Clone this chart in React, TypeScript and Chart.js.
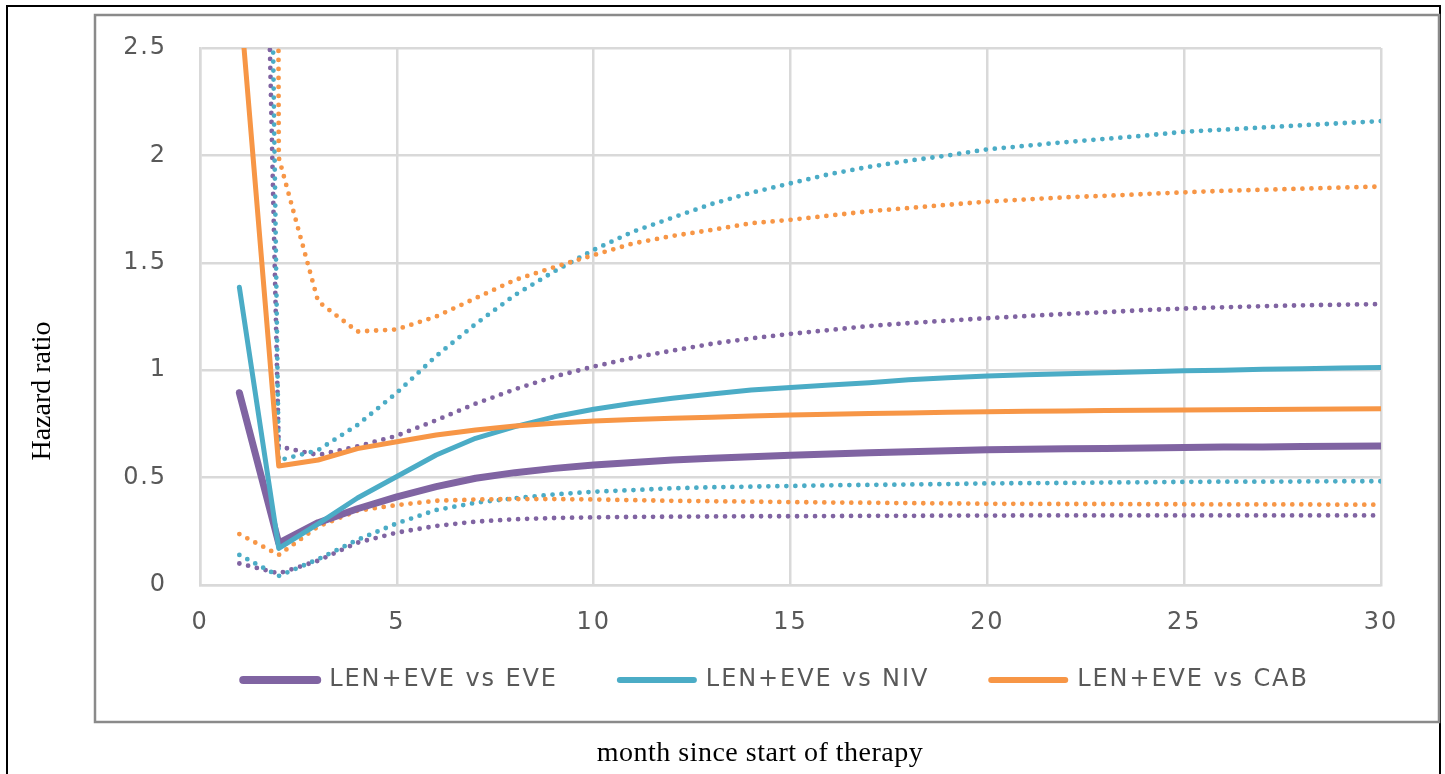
import React, { useEffect, useRef } from 'react';
import { Chart, registerables } from 'chart.js';

Chart.register(...registerables);

// ---- data ----
const months = [1, 2, 3, 4, 5, 6, 7, 8, 9, 10, 11, 12, 13, 14, 15, 16, 17, 18, 19, 20, 21, 22, 23, 24, 25, 26, 27, 28, 29, 30];

const eveHR = [0.895, 0.195, 0.29, 0.355, 0.41, 0.458, 0.497, 0.523, 0.543, 0.559, 0.57, 0.582, 0.59, 0.597, 0.604, 0.61, 0.616, 0.62, 0.625, 0.63, 0.632, 0.634, 0.636, 0.638, 0.64, 0.642, 0.643, 0.645, 0.646, 0.647];
const eveLo = [0.1, 0.054, 0.113, 0.197, 0.244, 0.275, 0.295, 0.306, 0.312, 0.315, 0.317, 0.318, 0.319, 0.32, 0.32, 0.321, 0.322, 0.322, 0.323, 0.323, 0.324, 0.324, 0.324, 0.324, 0.324, 0.324, 0.324, 0.324, 0.324, 0.324];
const eveHi = [8.9, 0.645, 0.605, 0.645, 0.695, 0.767, 0.844, 0.911, 0.97, 1.017, 1.058, 1.091, 1.123, 1.148, 1.169, 1.187, 1.206, 1.219, 1.231, 1.242, 1.252, 1.262, 1.27, 1.28, 1.287, 1.293, 1.298, 1.302, 1.305, 1.308];

const nivHR = [1.386, 0.17, 0.285, 0.405, 0.505, 0.605, 0.683, 0.737, 0.783, 0.818, 0.846, 0.869, 0.889, 0.908, 0.92, 0.931, 0.942, 0.955, 0.965, 0.973, 0.979, 0.984, 0.988, 0.993, 0.997, 1.0, 1.004, 1.007, 1.01, 1.012];
const nivLo = [0.14, 0.042, 0.12, 0.21, 0.287, 0.349, 0.383, 0.404, 0.422, 0.434, 0.442, 0.45, 0.455, 0.458, 0.461, 0.464, 0.466, 0.468, 0.47, 0.473, 0.474, 0.475, 0.477, 0.478, 0.48, 0.481, 0.481, 0.482, 0.483, 0.483];
const nivHi = [14, 0.58, 0.628, 0.745, 0.895, 1.066, 1.215, 1.35, 1.46, 1.56, 1.645, 1.71, 1.774, 1.826, 1.87, 1.913, 1.947, 1.975, 2.0, 2.028, 2.045, 2.062, 2.077, 2.092, 2.11, 2.12, 2.13, 2.14, 2.15, 2.16];

const cabHR = [2.76, 0.554, 0.582, 0.635, 0.667, 0.698, 0.722, 0.74, 0.753, 0.764, 0.771, 0.776, 0.781, 0.787, 0.791, 0.795, 0.798, 0.801, 0.804, 0.807, 0.809, 0.81, 0.812, 0.813, 0.815, 0.816, 0.817, 0.818, 0.819, 0.82];
const cabLo = [0.237, 0.14, 0.272, 0.346, 0.372, 0.392, 0.398, 0.4, 0.4, 0.398, 0.395, 0.392, 0.39, 0.388, 0.386, 0.384, 0.383, 0.381, 0.38, 0.378, 0.378, 0.377, 0.377, 0.376, 0.376, 0.375, 0.375, 0.375, 0.374, 0.374];
const cabHi = [80, 1.99, 1.32, 1.18, 1.19, 1.25, 1.335, 1.42, 1.48, 1.536, 1.59, 1.625, 1.653, 1.684, 1.7, 1.72, 1.74, 1.755, 1.77, 1.785, 1.795, 1.805, 1.812, 1.82, 1.828, 1.835, 1.84, 1.845, 1.85, 1.855];

const seriesNames = ['LEN+EVE vs EVE', 'LEN+EVE vs NIV', 'LEN+EVE vs CAB'];
const yTickLabels = ['0', '0.5', '1', '1.5', '2', '2.5'];
const xTickLabels = ['0', '5', '10', '15', '20', '25', '30'];
const yTitle = 'Hazard ratio';
const xTitle = 'month since start of therapy';

// ---- styles ----
const PURPLE = '#8064A2';
const CYAN = '#4BACC6';
const ORANGE = '#F79646';
const TICK_COLOR = '#595959';
const GRID_COLOR = '#D9D9D9';
const seriesColors = [PURPLE, CYAN, ORANGE];
const solidWidths = [7, 5, 5];

const W = 1445;
const H = 774;
const LEGEND_LEFT = 171;
const LEGEND_SHIFT_Y = -34;

const toPts = (vals: number[]) => months.map((m, i) => ({ x: m, y: vals[i] }));

const decorPlugin = {
  id: 'decor',
  afterInit(chart: any) {
    (chart.ctx as any).letterSpacing = '1.9px';
  },
  afterLayout(chart: any) {
    const lg = chart.legend;
    if (lg) {
      lg.left = LEGEND_LEFT;
      lg.top += LEGEND_SHIFT_Y;
      lg.bottom += LEGEND_SHIFT_Y;
    }
  },
  beforeDraw(chart: any) {
    const ctx = chart.ctx as CanvasRenderingContext2D;
    ctx.save();
    ctx.fillStyle = '#ffffff';
    ctx.fillRect(0, 0, chart.width, chart.height);
    ctx.strokeStyle = '#000000';
    ctx.lineWidth = 2;
    ctx.strokeRect(7, 6, 1433, 820);
    ctx.strokeStyle = '#8a8a8a';
    ctx.lineWidth = 2.5;
    ctx.strokeRect(95, 15, 1344, 707);
    ctx.restore();
  },
  afterDraw(chart: any) {
    const ctx = chart.ctx as CanvasRenderingContext2D;
    ctx.save();
    (ctx as any).letterSpacing = '0px';
    ctx.fillStyle = '#000000';
    ctx.font = '28px "Liberation Serif"';
    ctx.textAlign = 'center';
    ctx.textBaseline = 'middle';
    ctx.translate(43, 391);
    ctx.rotate(-Math.PI / 2);
    ctx.fillText(yTitle, 0, 0);
    ctx.restore();

    ctx.save();
    (ctx as any).letterSpacing = '0.5px';
    ctx.fillStyle = '#000000';
    ctx.font = '28px "Liberation Serif"';
    ctx.textAlign = 'center';
    ctx.textBaseline = 'middle';
    ctx.fillText(xTitle, 760, 754);
    ctx.restore();
  },
};

export default function App() {
  const ref = useRef<HTMLCanvasElement | null>(null);

  useEffect(() => {
    if (!ref.current) return;

    const dotted = (vals: number[], color: string, order: number) => ({
      data: toPts(vals),
      borderColor: color,
      backgroundColor: color,
      borderWidth: 4.8,
      borderDash: [0, 9],
      borderCapStyle: 'round' as const,
      borderJoinStyle: 'round' as const,
      pointRadius: 0,
      tension: 0,
      fill: false,
      order,
    });
    const solid = (vals: number[], color: string, width: number, order: number, label: string) => ({
      label,
      data: toPts(vals),
      borderColor: color,
      backgroundColor: color,
      borderWidth: width,
      borderCapStyle: 'round' as const,
      borderJoinStyle: 'round' as const,
      pointRadius: 0,
      tension: 0,
      fill: false,
      order,
    });

    const chart = new Chart(ref.current, {
      type: 'line',
      data: {
        datasets: [
          solid(eveHR, PURPLE, solidWidths[0], 2, seriesNames[0]),
          solid(nivHR, CYAN, solidWidths[1], 1, seriesNames[1]),
          solid(cabHR, ORANGE, solidWidths[2], 0, seriesNames[2]),
          dotted(eveLo, PURPLE, 8),
          dotted(eveHi, PURPLE, 7),
          dotted(nivLo, CYAN, 6),
          dotted(nivHi, CYAN, 5),
          dotted(cabLo, ORANGE, 4),
          dotted(cabHi, ORANGE, 3),
        ] as any,
      },
      options: {
        animation: false,
        responsive: false,
        maintainAspectRatio: false,
        layout: { padding: { left: 100, right: 64, top: 48, bottom: 38 } },
        plugins: {
          tooltip: { enabled: false },
          title: { display: false },
          legend: {
            display: true,
            position: 'bottom',
            labels: {
              usePointStyle: true,
              pointStyleWidth: 74,
              boxHeight: 8,
              padding: 62,
              color: TICK_COLOR,
              font: { family: '"DejaVu Sans"', size: 24 },
              generateLabels: () =>
                seriesNames.map((t, i) => ({
                  text: t,
                  fillStyle: seriesColors[i],
                  strokeStyle: seriesColors[i],
                  lineWidth: solidWidths[i] + 1,
                  lineCap: 'round',
                  pointStyle: 'line',
                  hidden: false,
                  datasetIndex: i,
                  fontColor: TICK_COLOR,
                })) as any,
            },
          },
        },
        scales: {
          x: {
            type: 'linear',
            min: 0,
            max: 30,
            afterFit: (s: any) => {
              s.height = 55;
            },
            ticks: {
              stepSize: 5,
              padding: 23,
              color: TICK_COLOR,
              font: { family: '"DejaVu Sans"', size: 24 },
              maxRotation: 0,
              callback: (_v: any, i: number) => xTickLabels[i],
            },
            grid: { color: GRID_COLOR, lineWidth: 2.5, drawTicks: false },
            border: { display: true, color: GRID_COLOR, width: 2.5 },
          },
          y: {
            type: 'linear',
            min: 0,
            max: 2.5,
            afterFit: (s: any) => {
              s.width = 100;
            },
            ticks: {
              stepSize: 0.5,
              padding: 33,
              color: TICK_COLOR,
              font: { family: '"DejaVu Sans"', size: 24 },
              callback: (_v: any, i: number) => yTickLabels[i],
            },
            grid: { color: GRID_COLOR, lineWidth: 2.5, drawTicks: false },
            border: { display: true, color: GRID_COLOR, width: 2.5 },
          },
        },
      } as any,
      plugins: [decorPlugin],
    });

    return () => chart.destroy();
  }, []);

  return (
    <div style={{ position: 'absolute', left: 0, top: 0, width: W, height: H }}>
      <canvas ref={ref} width={W} height={H} style={{ display: 'block', width: W, height: H }} />
    </div>
  );
}
